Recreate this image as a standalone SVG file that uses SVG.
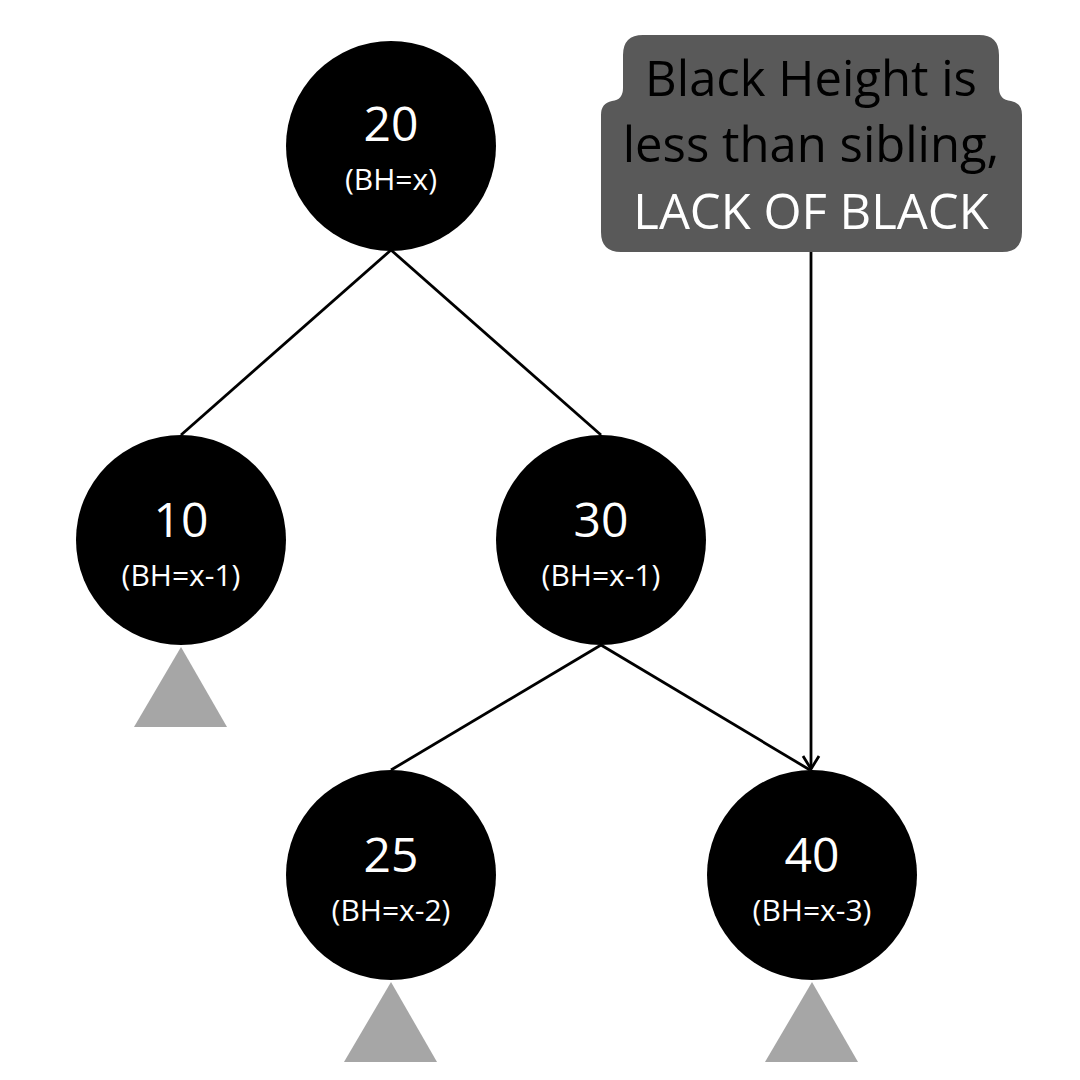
<svg xmlns="http://www.w3.org/2000/svg" width="1080" height="1080" viewBox="0 0 1080 1080">
<defs>
<marker id="chev" markerWidth="18" markerHeight="20" refX="16" refY="10" orient="auto" markerUnits="userSpaceOnUse" viewBox="0 0 18 20">
<path d="M3,2 L16,10 L3,18" fill="none" stroke="#000" stroke-width="2.8"/>
</marker>
</defs>
<style>
.node{fill:#000;}
.tri{fill:#a6a6a6;}
.num{font-family:"Open Sans","Noto Sans",sans-serif;font-size:48px;fill:#fff;text-anchor:middle;}
.bh{font-family:"Open Sans","Noto Sans",sans-serif;font-size:30px;fill:#fff;text-anchor:middle;}
.edge{stroke:#000;stroke-width:2.8;fill:none;}
.call{font-family:"Open Sans","Noto Sans",sans-serif;font-size:49px;text-anchor:middle;}
</style>
<rect width="1080" height="1080" fill="#fff"/>
<g id="connectors">
<line class="edge" x1="391" y1="250" x2="181" y2="435"/>
<line class="edge" x1="391" y1="250" x2="601" y2="435"/>
<line class="edge" x1="601" y1="645" x2="391" y2="770"/>
<line class="edge" x1="601" y1="645" x2="810" y2="770"/>
<line class="edge" x1="811" y1="240" x2="811" y2="769" marker-end="url(#chev)"/>
</g>
<g id="node-20">
<circle class="node" cx="391" cy="146" r="105"/>
<text class="num" x="391" y="141">20</text>
<text class="bh" x="391" y="190">(BH=x)</text>
</g>
<g id="node-10">
<circle class="node" cx="181" cy="540" r="105"/>
<text class="num" x="181" y="537">10</text>
<text class="bh" x="181" y="586">(BH=x-1)</text>
<polygon class="tri" points="181,647 227,727 134,727"/>
</g>
<g id="node-30">
<circle class="node" cx="601" cy="540" r="105"/>
<text class="num" x="601" y="537">30</text>
<text class="bh" x="601" y="586">(BH=x-1)</text>
</g>
<g id="node-25">
<circle class="node" cx="391" cy="875" r="105"/>
<text class="num" x="391" y="872">25</text>
<text class="bh" x="391" y="921">(BH=x-2)</text>
<polygon class="tri" points="391,982 437,1062 344,1062"/>
</g>
<g id="node-40">
<circle class="node" cx="812" cy="875" r="105"/>
<text class="num" x="812" y="872">40</text>
<text class="bh" x="812" y="921">(BH=x-3)</text>
<polygon class="tri" points="812,982 858,1062 765,1062"/>
</g>
<g id="callout">
<path fill="#595959" d="M643,35 H979 Q999,35 999,55 V88 Q999,100 1011,101 Q1022,103 1022,115 V232 Q1022,252 1002,252 H621 Q601,252 601,232 V115 Q601,103 612,101 Q623,100 623,88 V55 Q623,35 643,35 Z"/>
<text class="call" x="811" y="96" fill="#000">Black Height is</text>
<text class="call" x="811" y="162" fill="#000">less than sibling,</text>
<text class="call" x="811" y="229" fill="#fff">LACK OF BLACK</text>
</g>
</svg>
